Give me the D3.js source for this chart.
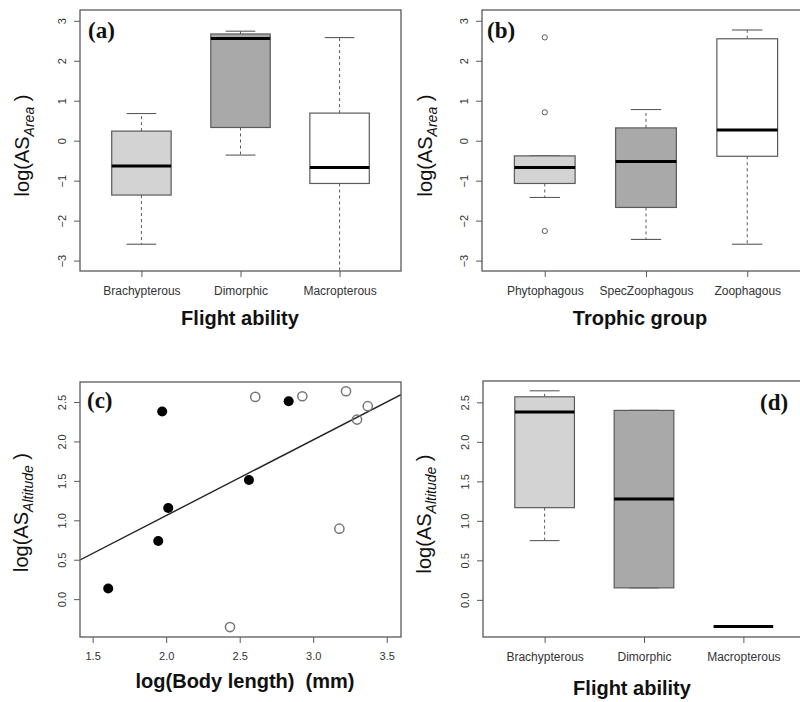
<!DOCTYPE html>
<html>
<head>
<meta charset="utf-8">
<script src="https://cdn.jsdelivr.net/npm/d3@7/dist/d3.min.js"></script>
<style>
  html, body { margin: 0; padding: 0; background: #fff; }
  svg { display: block; }
  text { font-family: Arial, "Liberation Sans", Helvetica, sans-serif; }
</style>
</head>
<body>
<svg id="chart" width="800" height="702"></svg>
<script>
// ---------- DATA ----------
const flightCats = ["Brachypterous", "Dimorphic", "Macropterous"];
const trophicCats = ["Phytophagous", "SpecZoophagous", "Zoophagous"];
// five-number summaries: [lower whisker, Q1, median, Q3, upper whisker]
const areaByFlight = [
  [-2.59, -1.36, -0.63, 0.24, 0.68],
  [-0.36, 0.33, 2.56, 2.67, 2.74],
  [-3.60, -1.07, -0.67, 0.69, 2.58]
];
const areaByFlightOutliers = [[], [], []];
const areaByTrophic = [
  [-1.42, -1.07, -0.67, -0.38, -0.38],
  [-2.47, -1.67, -0.52, 0.32, 0.78],
  [-2.59, -0.39, 0.27, 2.55, 2.77]
];
const areaByTrophicOutliers = [[2.585, 0.71, -2.26], [], []];
const altByFlight = [
  [0.75, 1.167, 2.377, 2.57, 2.646],
  [0.152, 0.152, 1.277, 2.398, 2.398],
  [-0.337, -0.337, -0.337, -0.337, -0.337]
];
const altByFlightOutliers = [[], [], []];
// scatter (c)
const bodyLenFilled = [1.606, 1.973, 2.014, 1.946, 2.563, 2.833];
const altFilled     = [0.134, 2.380, 1.156, 0.738, 1.510, 2.510];
const bodyLenOpen   = [2.606, 2.926, 3.223, 3.371, 3.298, 3.178, 2.434];
const altOpen       = [2.565, 2.573, 2.637, 2.447, 2.278, 0.894, -0.354];
const fitIntercept = -0.86;
const fitSlope = 0.96;
// ticks
const areaTicks = [-3, -2, -1, 0, 1, 2, 3];
const altTicks = [0.0, 0.5, 1.0, 1.5, 2.0, 2.5];
const bodyTicks = [1.5, 2.0, 2.5, 3.0, 3.5];
const boxFills = ["#d3d3d3", "#a9a9a9", "#ffffff"];

// ---------- DRAWING ----------
const svg = d3.select("#chart");
const frameColor = "#5a5a5a";
const tickColor = "#333";

function frame(g, p) {
  g.append("rect").attr("x", p.left).attr("y", p.top)
    .attr("width", p.right - p.left).attr("height", p.bottom - p.top)
    .attr("fill", "none").attr("stroke", frameColor).attr("stroke-width", 1.3);
}

function yAxis(g, p, y, ticks, fmt) {
  const ax = g.append("g").attr("transform", `translate(${p.left},0)`)
    .call(d3.axisLeft(y).tickValues(ticks).tickSize(6).tickFormat(fmt));
  ax.select(".domain").remove();
  ax.selectAll("line").attr("stroke", frameColor);
  ax.selectAll("text")
    .attr("x", 0).attr("dy", null)
    .attr("transform", "translate(-14,0) rotate(-90)")
    .attr("text-anchor", "middle")
    .attr("dy", "0em")
    .attr("fill", tickColor).style("font-size", "11px");
}

function xAxis(g, p, x, ticks, fmt, fs, pad) {
  const ax = g.append("g").attr("transform", `translate(0,${p.bottom})`)
    .call(d3.axisBottom(x).tickValues(ticks).tickSize(6).tickPadding(pad).tickFormat(fmt));
  ax.select(".domain").remove();
  ax.selectAll("line").attr("stroke", frameColor);
  ax.selectAll("text").attr("fill", tickColor).style("font-size", fs + "px");
}

function yTitle(g, bx, cy, sub) {
  const t = g.append("text")
    .attr("transform", `translate(${bx},${cy}) rotate(-90)`)
    .attr("text-anchor", "middle")
    .attr("fill", "#111").style("font-size", "20px");
  t.append("tspan").text("log(AS");
  t.append("tspan").text(sub).attr("dy", 5).style("font-size", "14px").style("font-style", "italic");
  t.append("tspan").text(" )").attr("dy", -5);
}

function xTitle(g, cx, by, txt) {
  g.append("text").attr("x", cx).attr("y", by).attr("text-anchor", "middle")
    .attr("fill", "#111").style("font-size", "20px").style("font-weight", "bold")
    .style("white-space", "pre").text(txt);
}

function panelLabel(g, x, y, txt) {
  g.append("text").attr("x", x).attr("y", y)
    .style("font-family", "'Times New Roman', 'Liberation Serif', serif")
    .style("font-size", "23px").style("font-weight", "bold").attr("fill", "#111").text(txt);
}

let clipId = 0;
function clip(g, p) {
  const id = "clip" + (clipId++);
  g.append("clipPath").attr("id", id).append("rect")
    .attr("x", p.left).attr("y", p.top).attr("width", p.right - p.left).attr("height", p.bottom - p.top);
  return g.append("g").attr("clip-path", `url(#${id})`);
}

function boxPanel(p, yDomain, cats, stats, outliers, ticks, fmt, label, labelPos, sub, yTitleX, xTitleText, xTitleX, xTitleY) {
  const g = svg.append("g");
  const x = d3.scaleLinear().domain([0.38, 3.62]).range([p.left, p.right]);
  const y = d3.scaleLinear().domain(yDomain).range([p.bottom, p.top]);
  const bw = x(0.3) - x(0);  // half box width
  const cw = x(0.15) - x(0); // half cap width
  const c = clip(g, p);
  stats.forEach((s, i) => {
    const cx = x(i + 1);
    const [lo, q1, med, q3, hi] = s;
    // whiskers
    [[q3, hi], [q1, lo]].forEach(([a, b]) => {
      if (a !== b) {
        c.append("line").attr("x1", cx).attr("x2", cx).attr("y1", y(a)).attr("y2", y(b))
          .attr("stroke", frameColor).attr("stroke-width", 1).attr("stroke-dasharray", "3,3");
      }
      c.append("line").attr("x1", cx - cw).attr("x2", cx + cw).attr("y1", y(b)).attr("y2", y(b))
        .attr("stroke", frameColor).attr("stroke-width", 1.1);
    });
    c.append("rect").attr("x", cx - bw).attr("width", 2 * bw)
      .attr("y", y(q3)).attr("height", y(q1) - y(q3))
      .attr("fill", boxFills[i]).attr("stroke", frameColor).attr("stroke-width", 1.2);
    c.append("line").attr("x1", cx - bw).attr("x2", cx + bw).attr("y1", y(med)).attr("y2", y(med))
      .attr("stroke", "#000").attr("stroke-width", 3);
    outliers[i].forEach(v => {
      c.append("circle").attr("cx", cx).attr("cy", y(v)).attr("r", 2.6)
        .attr("fill", "none").attr("stroke", frameColor).attr("stroke-width", 1);
    });
  });
  frame(g, p);
  yAxis(g, p, y, ticks, fmt);
  xAxis(g, p, x, [1, 2, 3], d => cats[d - 1], 12, 9);
  yTitle(g, yTitleX, (p.top + p.bottom) / 2 + 5, sub);
  xTitle(g, xTitleX, xTitleY, xTitleText);
  panelLabel(g, labelPos[0], labelPos[1], label);
}

// Panel (a)
boxPanel({left: 80, right: 401, top: 10, bottom: 271}, [-3.26, 3.27],
  flightCats, areaByFlight, areaByFlightOutliers, areaTicks, d3.format("d"),
  "(a)", [88, 38], "Area", 29, "Flight ability", 240, 325);

// Panel (b)
boxPanel({left: 482, right: 810, top: 10, bottom: 271}, [-3.26, 3.27],
  trophicCats, areaByTrophic, areaByTrophicOutliers, areaTicks, d3.format("d"),
  "(b)", [487, 38], "Area", 432, "Trophic group", 640, 325);

// Panel (d)
boxPanel({left: 483, right: 805, top: 381, bottom: 637}, [-0.47, 2.77],
  flightCats, altByFlight, altByFlightOutliers, altTicks, d3.format(".1f"),
  "(d)", [760, 410], "Altitude", 431, "Flight ability", 632, 695);

// Panel (c) scatter
(function () {
  const p = {left: 80, right: 401, top: 382, bottom: 637};
  const g = svg.append("g");
  const x = d3.scaleLinear().domain([1.414, 3.597]).range([p.left, p.right]);
  const y = d3.scaleLinear().domain([-0.48, 2.754]).range([p.bottom, p.top]);
  const c = clip(g, p);
  const xd = x.domain();
  c.append("line")
    .attr("x1", x(xd[0])).attr("y1", y(fitIntercept + fitSlope * xd[0]))
    .attr("x2", x(xd[1])).attr("y2", y(fitIntercept + fitSlope * xd[1]))
    .attr("stroke", "#222").attr("stroke-width", 1.4);
  bodyLenOpen.forEach((v, i) => {
    c.append("circle").attr("cx", x(v)).attr("cy", y(altOpen[i])).attr("r", 4.6)
      .attr("fill", "none").attr("stroke", "#777").attr("stroke-width", 1.5);
  });
  bodyLenFilled.forEach((v, i) => {
    c.append("circle").attr("cx", x(v)).attr("cy", y(altFilled[i])).attr("r", 5)
      .attr("fill", "#000");
  });
  frame(g, p);
  yAxis(g, p, y, altTicks, d3.format(".1f"));
  xAxis(g, p, x, bodyTicks, d3.format(".1f"), 11, 9);
  yTitle(g, 28, (p.top + p.bottom) / 2 + 3, "Altitude");
  xTitle(g, 245, 688, "log(Body length)  (mm)");
  panelLabel(g, 87, 408, "(c)");
})();
</script>
</body>
</html>
